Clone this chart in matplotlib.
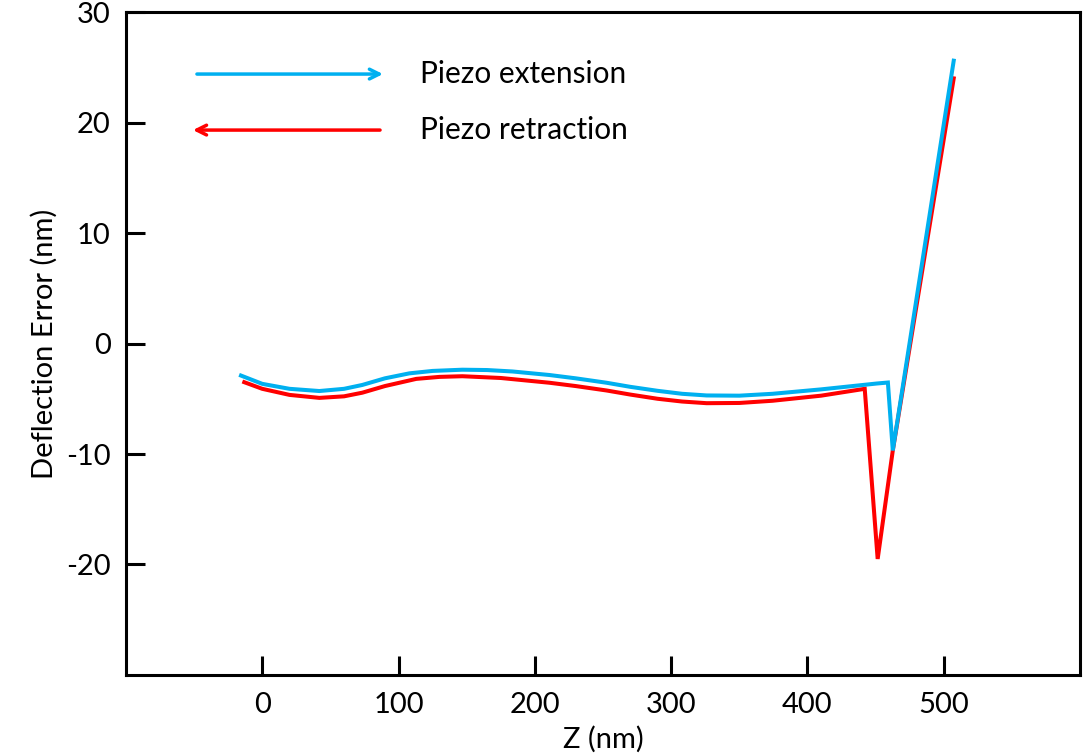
import matplotlib
matplotlib.use('Agg')
import matplotlib.pyplot as plt

plt.rcParams.update({
    'font.family': ['Lato', 'DejaVu Sans'],
    'axes.unicode_minus': False,
})

# values
ext_z = [-15.6, 0, 20, 41.9, 60, 73.4, 90, 107.9, 125, 146.8, 165, 183.6,
         210.7, 230, 252.6, 270, 290, 308, 326, 350, 374.4, 410, 450.8, 459,
         462.6, 507.3]
ext_d = [-2.90, -3.65, -4.10, -4.30, -4.10, -3.75, -3.15, -2.70, -2.48, -2.37,
         -2.40, -2.53, -2.85, -3.15, -3.55, -3.92, -4.28, -4.55, -4.70, -4.72,
         -4.55, -4.15, -3.62, -3.53, -9.68, 25.6]

ret_z = [-13.2, 0, 20, 41.9, 60, 73.4, 90, 113, 130, 146.8, 175, 210.7,
         230, 252.6, 270, 290, 308, 326, 350, 374.4, 410, 442, 451.5, 462.6,
         507.3]
ret_d = [-3.50, -4.10, -4.65, -4.92, -4.78, -4.45, -3.85, -3.20, -3.02, -2.96,
         -3.12, -3.55, -3.85, -4.25, -4.62, -5.00, -5.25, -5.40, -5.38, -5.18,
         -4.72, -4.10, -19.5, -9.68, 24.0]

x_ticks = [0, 100, 200, 300, 400, 500]
y_ticks = [-20, -10, 0, 10, 20, 30]

C_BLUE = '#00B0F0'
C_RED = '#FF0000'

fig = plt.figure(figsize=(10.83, 7.55), dpi=100)
ax = fig.add_axes([0.1163, 0.106, 0.881, 0.878])

ax.plot(ret_z, ret_d, color=C_RED, lw=2.9, solid_joinstyle='miter', zorder=3)
ax.plot(ext_z, ext_d, color=C_BLUE, lw=2.9, solid_joinstyle='miter', zorder=4)

ax.set_xlim(-100, 600)
ax.set_ylim(-30, 30)
ax.set_xticks(x_ticks)
ax.set_yticks(y_ticks)
ax.tick_params(direction='in', length=13.5, width=2.2, labelsize=21,
               top=False, right=False)
ax.tick_params(axis='x', pad=12)
ax.tick_params(axis='y', pad=11)
for sp in ax.spines.values():
    sp.set_linewidth(2.2)

ax.set_xlabel('Z (nm)', fontsize=21, labelpad=6)
ax.set_ylabel('Deflection Error (nm)', fontsize=21, labelpad=6)

# legend drawn as arrows
arw = dict(arrowstyle='->,head_length=0.7,head_width=0.35', lw=2.5,
           shrinkA=0, shrinkB=0)
ax.annotate('', xy=(0.2694, 0.9065), xytext=(0.0744, 0.9065),
            xycoords='axes fraction', arrowprops=dict(color=C_BLUE, **arw))
ax.annotate('', xy=(0.0702, 0.822), xytext=(0.2663, 0.822),
            xycoords='axes fraction', arrowprops=dict(color=C_RED, **arw))
ax.text(0.308, 0.9065, 'Piezo extension', transform=ax.transAxes,
        fontsize=21.5, va='center', ha='left')
ax.text(0.308, 0.822, 'Piezo retraction', transform=ax.transAxes,
        fontsize=21.5, va='center', ha='left')

fig.savefig('out.png', dpi=100, facecolor='white')
